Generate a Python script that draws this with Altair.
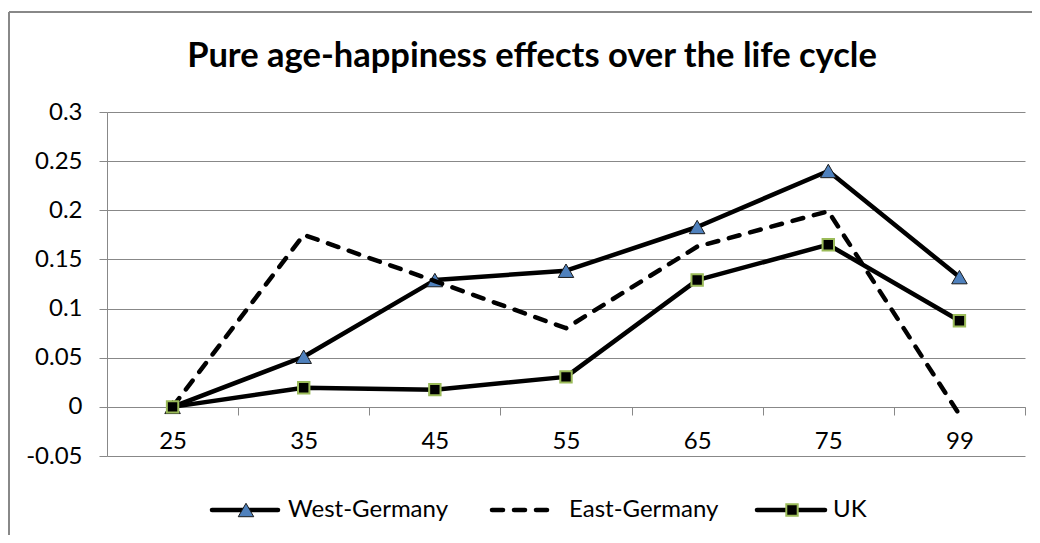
import altair as alt
import pandas as pd

# ---- data ----
ages = ["25", "35", "45", "55", "65", "75", "99"]
series = ["West-Germany", "East-Germany", "UK"]
west = [0.0, 0.051, 0.129, 0.1385, 0.183, 0.240, 0.132]
east = [0.0, 0.175, 0.128, 0.080, 0.163, 0.199, -0.008]
uk = [0.0, 0.0195, 0.0175, 0.0305, 0.129, 0.165, 0.0876]
y_ticks = [-0.05, 0, 0.05, 0.1, 0.15, 0.2, 0.25, 0.3]
title_text = "Pure age-happiness effects over the life cycle"

# ---- styling / layout constants ----
FONT = "Lato"
GRID = "#888888"
TRI_FILL = "#4F81BD"
SQ_STROKE = "#9BBB59"
LW = 4.5
FS = 24
W, H = 918, 344

df = pd.DataFrame({
    "age": ages * 3,
    "series": [s for s in series for _ in ages],
    "value": west + east + uk,
})

x = alt.X(
    "age:N", sort=ages,
    scale=alt.Scale(type="band", domain=ages, paddingInner=0, paddingOuter=0),
    bandPosition=0.5,
    axis=alt.Axis(title=None, tickBand="extent", labelAngle=0, offset=-49,
                  domainColor=GRID, domainWidth=1, tickColor=GRID, tickWidth=1,
                  tickSize=8, labelPadding=14, labelFont=FONT, labelFontSize=FS,
                  labelColor="black", grid=False),
)
y = alt.Y(
    "value:Q",
    scale=alt.Scale(domain=[-0.05, 0.3], nice=False, zero=False),
    axis=alt.Axis(title=None, values=y_ticks, format="~g",
                  labelExpr="replace(datum.label, '\u2212', '-')",
                  grid=True, gridColor=GRID, gridWidth=1,
                  domainColor=GRID, domainWidth=1, tickColor=GRID, tickWidth=1,
                  tickSize=8, labelPadding=17, labelFont=FONT, labelFontSize=FS,
                  labelColor="black"),
)

base = alt.Chart(df).encode(x=x, y=y)


def sel(name):
    return base.transform_filter(alt.datum.series == name)


west_line = sel("West-Germany").mark_line(color="black", strokeWidth=LW, strokeJoin="round")
west_pts = sel("West-Germany").mark_point(shape="triangle-up", filled=True, fill=TRI_FILL,
                                          stroke="#1a1a1a", strokeWidth=1, size=240, opacity=1)
east_line = sel("East-Germany").mark_line(color="black", strokeWidth=LW, strokeDash=[11, 11],
                                          strokeCap="round", strokeJoin="round")
uk_line = sel("UK").mark_line(color="black", strokeWidth=LW, strokeJoin="round")
uk_pts = sel("UK").mark_point(shape="square", filled=True, fill="black", stroke=SQ_STROKE,
                              strokeWidth=2, size=130, opacity=1)

one = pd.DataFrame({"k": [0]})

# title
title = alt.Chart(pd.DataFrame({"t": [title_text]})).mark_text(
    font=FONT, fontSize=34.5, fontWeight="bold", color="black", align="center", baseline="alphabetic"
).encode(text="t:N", x=alt.value(425), y=alt.value(-45))

# chart frame (left and top edges visible)
frame_left = alt.Chart(one).mark_rule(color=GRID, strokeWidth=2).encode(
    x=alt.value(-98), y=alt.value(-100), y2=alt.value(H + 100))
frame_top = alt.Chart(one).mark_rule(color=GRID, strokeWidth=2).encode(
    x=alt.value(-98), x2=alt.value(W + 100), y=alt.value(-100))

# legend
LY = H + 54
leg = []
leg.append(alt.Chart(one).mark_rule(color="black", strokeWidth=LW, strokeCap="round").encode(
    x=alt.value(105), x2=alt.value(171), y=alt.value(LY)))
leg.append(alt.Chart(one).mark_point(shape="triangle-up", filled=True, fill=TRI_FILL, stroke="#1a1a1a",
                                     strokeWidth=1, size=240, opacity=1).encode(
    x=alt.value(139), y=alt.value(LY)))
leg.append(alt.Chart(one).mark_rule(color="black", strokeWidth=LW, strokeCap="round",
                                    strokeDash=[11, 11]).encode(
    x=alt.value(385), x2=alt.value(443), y=alt.value(LY)))
leg.append(alt.Chart(one).mark_rule(color="black", strokeWidth=LW, strokeCap="round").encode(
    x=alt.value(650), x2=alt.value(718), y=alt.value(LY)))
leg.append(alt.Chart(one).mark_point(shape="square", filled=True, fill="black", stroke=SQ_STROKE,
                                     strokeWidth=2, size=130, opacity=1).encode(
    x=alt.value(685), y=alt.value(LY)))
for name, lx in zip(series, [181, 462, 726]):
    leg.append(alt.Chart(pd.DataFrame({"name": [name]})).mark_text(
        font=FONT, fontSize=FS, color="black", align="left", baseline="middle"
    ).encode(text="name:N", x=alt.value(lx), y=alt.value(LY)))

chart = alt.layer(
    frame_left, frame_top, title,
    west_line, west_pts, east_line, uk_line, uk_pts,
    *leg,
).properties(
    width=W, height=H,
    autosize=alt.AutoSizeParams(type="none"),
    padding={"left": 99, "top": 104, "right": 7, "bottom": 79},
).configure_view(strokeWidth=0)

chart.save("out.html", embed_options={"renderer": "svg", "actions": False})
